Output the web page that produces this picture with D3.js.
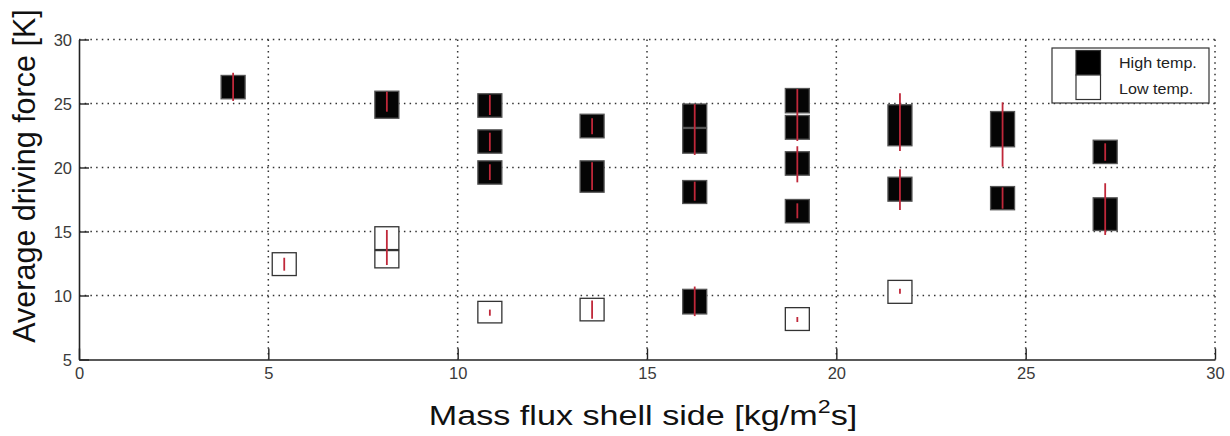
<!DOCTYPE html>
<html>
<head>
<meta charset="utf-8">
<script src="https://cdn.jsdelivr.net/npm/d3@7"></script>
<style>
  body { margin: 0; background: #fff; }
  svg { display: block; }
  text { font-family: Arial, "Liberation Sans", sans-serif; }
</style>
</head>
<body>
<svg id="chart" width="1230" height="436"></svg>
<script>
// data
var xTicks = [0, 5, 10, 15, 20, 25, 30];
var yTicks = [5, 10, 15, 20, 25, 30];

// [mass flux, box low, box high]
var highBoxes = [
  [4.07, 25.33, 27.23],
  [8.13, 23.81, 26.0],
  [10.85, 23.89, 25.8],
  [10.85, 21.08, 22.98],
  [10.85, 18.66, 20.56],
  [13.55, 22.28, 24.2],
  [13.55, 18.03, 20.56],
  [16.26, 23.09, 25.0],
  [16.26, 21.08, 23.09],
  [16.26, 17.15, 19.02],
  [16.26, 8.52, 10.52],
  [18.97, 24.23, 26.21],
  [18.97, 22.17, 24.1],
  [18.97, 19.36, 21.27],
  [18.97, 15.64, 17.54],
  [21.68, 21.66, 24.94],
  [21.68, 17.33, 19.28],
  [24.39, 21.58, 24.41],
  [24.39, 16.66, 18.55],
  [27.1, 20.27, 22.17],
  [27.1, 15.04, 17.67]
];

// [mass flux, low, high] of the red bars
var highErr = [
  [4.07, 25.2, 27.4],
  [8.13, 24.36, 25.92],
  [10.85, 24.1, 25.66],
  [10.85, 21.29, 22.72],
  [10.85, 19.02, 20.25],
  [13.55, 22.59, 23.84],
  [13.55, 18.24, 20.41],
  [16.26, 20.98, 24.94],
  [16.26, 17.41, 18.89],
  [16.26, 8.39, 10.7],
  [18.97, 22.07, 26.13],
  [18.97, 18.84, 21.66],
  [18.97, 16.03, 17.2],
  [21.68, 21.29, 25.8],
  [21.68, 16.68, 19.86],
  [24.39, 20.06, 25.09],
  [24.39, 16.78, 18.45],
  [27.1, 20.53, 21.89],
  [27.1, 14.73, 18.77]
];

var lowBoxes = [
  [5.42, 11.52, 13.38],
  [8.13, 13.55, 15.41],
  [8.13, 12.12, 13.55],
  [10.85, 7.82, 9.58],
  [13.55, 7.98, 9.82],
  [18.97, 7.23, 9.09],
  [21.68, 9.35, 11.22]
];

var lowErr = [
  [5.42, 11.94, 12.95],
  [8.13, 12.38, 15.12],
  [10.85, 8.42, 8.9],
  [13.55, 8.19, 9.61],
  [18.97, 7.93, 8.32],
  [21.68, 10.13, 10.52]
];

var legendItems = [
  {name: "High temp.", fill: "#000"},
  {name: "Low temp.", fill: "#fff"}
];

(function() {
  var padL = 79, padR = 1215, padT = 39.5, padB = 359.5;
  var boxW = 24;

  var svg = d3.select("#chart");

  var x = d3.scaleLinear().domain([0, 30]).range([padL, padR]);
  var y = d3.scaleLinear().domain([5, 30]).range([padB, padT]);

  // grid
  var grid = svg.append("g");
  grid.selectAll("line.gx")
    .data(xTicks.filter(function(d){ return d > 0; }))
    .enter()
    .append("line")
    .attr("x1", function(d){ return x(d); })
    .attr("x2", function(d){ return x(d); })
    .attr("y1", padT)
    .attr("y2", padB)
    .attr("stroke", "#333")
    .attr("stroke-width", 1.5)
    .attr("stroke-dasharray", "1.5,4.2");
  grid.selectAll("line.gy")
    .data(yTicks.filter(function(d){ return d > 5; }))
    .enter()
    .append("line")
    .attr("x1", padL)
    .attr("x2", padR)
    .attr("y1", function(d){ return y(d); })
    .attr("y2", function(d){ return y(d); })
    .attr("stroke", "#333")
    .attr("stroke-width", 1.5)
    .attr("stroke-dasharray", "1.5,4.2");

  // axes
  var xAxis = d3.axisBottom(x).tickValues(xTicks).tickSizeInner(-11).tickSizeOuter(0).tickPadding(16);
  var yAxis = d3.axisLeft(y).tickValues(yTicks).tickSizeInner(-10).tickSizeOuter(0).tickPadding(17);

  var gx = svg.append("g").attr("transform", "translate(0," + padB + ")").call(xAxis);
  var gy = svg.append("g").attr("transform", "translate(" + padL + ",0)").call(yAxis);

  [gx, gy].forEach(function(g){
    g.attr("font-size", null).attr("font-family", null);
    g.select(".domain").attr("stroke", "#222").attr("stroke-width", 1.6);
    g.selectAll(".tick line").attr("stroke", "#222").attr("stroke-width", 1.4);
    g.selectAll(".tick text")
      .attr("fill", "#3a3a3a")
      .style("font-size", "16.5px");
  });
  gy.selectAll(".tick text").attr("dy", "0.35em").attr("x", -7);
  gx.selectAll(".tick text").attr("y", 8).attr("dy", "0.71em");

  // boxes
  function drawBoxes(data, fill, stroke) {
    svg.append("g")
      .selectAll("rect")
      .data(data)
      .enter()
      .append("rect")
      .attr("x", function(d){ return x(d[0]) - boxW / 2; })
      .attr("y", function(d){ return y(d[2]) + 0.5; })
      .attr("width", boxW)
      .attr("height", function(d){ return y(d[1]) - y(d[2]) - 1; })
      .attr("fill", fill)
      .attr("stroke", stroke)
      .attr("stroke-width", 1.3);
  }
  drawBoxes(highBoxes, "#050505", "#555");
  drawBoxes(lowBoxes, "#fff", "#333");

  function drawErr(data) {
    svg.append("g")
      .selectAll("line")
      .data(data)
      .enter()
      .append("line")
      .attr("x1", function(d){ return x(d[0]); })
      .attr("x2", function(d){ return x(d[0]); })
      .attr("y1", function(d){ return y(d[1]); })
      .attr("y2", function(d){ return y(d[2]); })
      .attr("stroke", "#c0283a")
      .attr("stroke-width", 1.8);
  }
  drawErr(highErr);
  drawErr(lowErr);

  // legend
  var legend = svg.append("g");
  legend.append("rect")
    .attr("x", 1052).attr("y", 48)
    .attr("width", 157).attr("height", 55)
    .attr("fill", "#fff")
    .attr("stroke", "#333")
    .attr("stroke-width", 1.2);
  var li = legend.selectAll("g.item")
    .data(legendItems)
    .enter()
    .append("g");
  li.append("rect")
    .attr("x", 1076)
    .attr("y", function(d, i){ return 50.5 + i * 24.5; })
    .attr("width", 24.5)
    .attr("height", 24.5)
    .attr("fill", function(d){ return d.fill; })
    .attr("stroke", "#333")
    .attr("stroke-width", 1.2);
  li.append("text")
    .attr("transform", function(d, i){ return "translate(1119," + (63 + i * 26) + ") scale(1.15,1)"; })
    .attr("dy", "0.35em")
    .attr("fill", "#222")
    .style("font-size", "14px")
    .text(function(d){ return d.name; });

  // axis titles
  var xt = svg.append("text")
    .attr("transform", "translate(643,425) scale(1.22,1)")
    .attr("text-anchor", "middle")
    .attr("fill", "#111")
    .style("font-size", "28px");
  xt.append("tspan").text("Mass flux shell side [kg/m");
  xt.append("tspan").attr("dy", -12).style("font-size", "19px").text("2");
  xt.append("tspan").attr("dy", 12).text("s]");

  svg.append("text")
    .attr("transform", "translate(35,176) rotate(-90)")
    .attr("text-anchor", "middle")
    .attr("fill", "#111")
    .style("font-size", "30.5px")
    .text("Average driving force [K]");
})();
</script>
</body>
</html>
